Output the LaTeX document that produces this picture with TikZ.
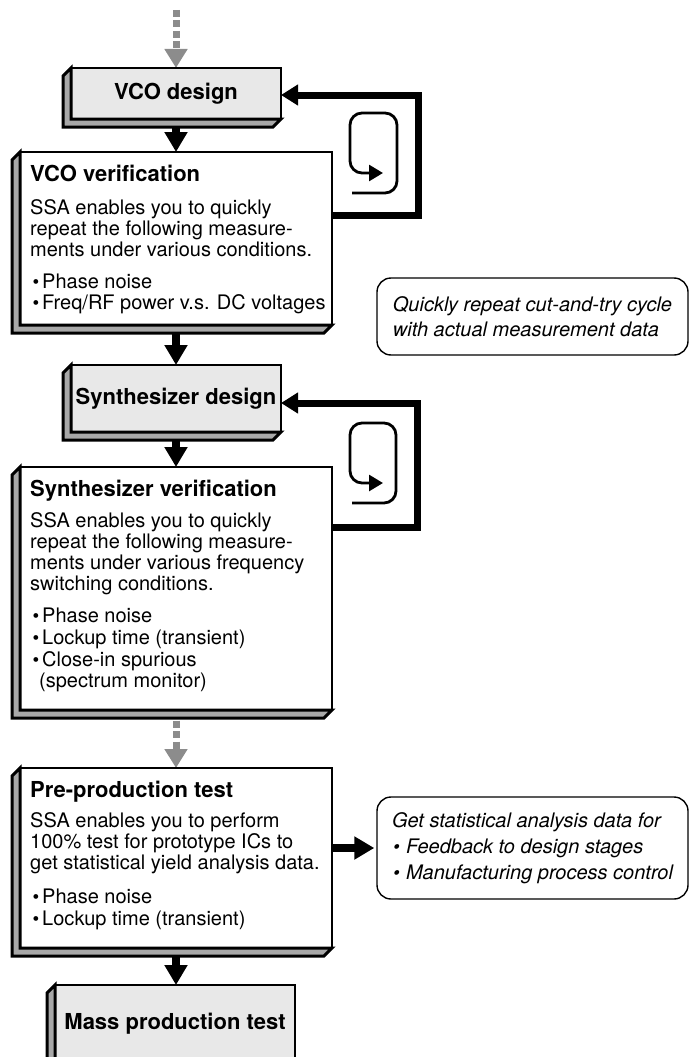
\documentclass[tikz,border=0pt]{standalone}
\usepackage{fontspec}
\setmainfont{TeX Gyre Heros}
\usetikzlibrary{arrows.meta,calc,backgrounds}

\definecolor{facegray}{HTML}{E8E8E8}
\definecolor{bevelgray}{HTML}{A8A8A8}
\definecolor{flowgray}{HTML}{8C8C8C}

% bold stage titles and small list bullets
\newcommand\stagetitle[1]{{\bfseries\fontsize{22}{21}\selectfont #1}}
\newcommand\itemdot{\makebox[12pt][l]{\hspace{2.5pt}{\fontsize{19}{19}\selectfont\textbullet}}}
\newcommand\noteitemdot{\makebox[14pt][l]{\hspace{1pt}{\fontsize{19}{19}\selectfont\textbullet}}}

\tikzset{
  stage/.style={draw, line width=2.6pt, outer sep=0pt, inner sep=0pt, fill=facegray,
    font=\bfseries\fontsize{22}{24}\selectfont, align=center},
  checkbox/.style={draw, line width=2.6pt, outer sep=0pt, inner sep=0pt, fill=white,
    minimum width=312pt},
  bodytext/.style={anchor=north west, inner sep=0pt, align=left,
    font=\fontsize{20}{21}\selectfont},
  note/.style={draw, line width=1.4pt, rounded corners=14pt, minimum width=311pt,
    inner sep=0pt, align=left, font=\itshape\fontsize{20}{25}\selectfont},
  bevel/.style={draw, line width=3pt, fill=bevelgray, line join=miter},
  flow/.style={line width=8pt, -{Triangle[width=22pt,length=20pt]}},
  pending/.style={draw=flowgray, line width=7pt, dash pattern=on 7pt off 3.5pt,
    -{Triangle[width=22pt,length=19pt,fill=flowgray]}},
  feedback/.style={line width=7pt, line join=miter, -{Triangle[width=20pt,length=17pt]}},
  cyclemark/.style={line width=2.8pt, rounded corners=12pt, -{Triangle[width=16pt,length=14pt]}},
}

% left/bottom bevel under a stage box
\newcommand\bevelunder[1]{%
  \draw[bevel] (#1.north west) -- ++(-8,8) -- ($(#1.south west)+(-8,8)$)
    -- ($(#1.south east)+(-8,8)$) -- (#1.south east) -- (#1.south west) -- cycle;}

\begin{document}
\begin{tikzpicture}[x=1pt,y=-1pt]
\useasboundingbox (0,0) rectangle (689,1057);

% stage boxes
\node[stage, minimum width=210pt, minimum height=51pt] (vcod) at (176,93.5) {VCO design};
\node[checkbox, minimum height=173pt] (vcov) at (176,238.5) {};
\node[stage, minimum width=210pt, minimum height=67pt] (synd) at (176,398.5) {Synthesizer design};
\node[checkbox, minimum height=243pt] (synv) at (176,588.5) {};
\node[checkbox, minimum height=180pt] (prep) at (176,858) {};
\node[stage, minimum width=240pt, minimum height=78pt] (mass) at (175,1024)
  {\raisebox{6pt}{Mass production test}};

\foreach \b in {vcod,vcov,synd,synv,prep,mass} {\bevelunder{\b}}

% box contents
\node[bodytext] (vcovtext) at ($(vcov.north west)+(10,12.5)$)
  {\stagetitle{VCO verification}\\[12pt]
   SSA enables you to quickly\\
   repeat the following measure-\\
   ments under various conditions.\\[11pt]
   \itemdot Phase noise\\
   \itemdot Freq/RF power v.s. DC voltages};

\node[bodytext] (synvtext) at ($(synv.north west)+(10,12.5)$)
  {\stagetitle{Synthesizer verification}\\[10pt]
   SSA enables you to quickly\\
   repeat the following measure-\\
   ments under various frequency\\
   switching conditions.\\[11pt]
   \itemdot Phase noise\\[1pt]
   \itemdot Lockup time (transient)\\[1pt]
   \itemdot Close-in spurious\\
   \hspace*{9pt}(spectrum monitor)};

\node[bodytext] (preptext) at ($(prep.north west)+(10,12.5)$)
  {\stagetitle{Pre-production test}\\[9pt]
   SSA enables you to perform\\
   100\% test for prototype ICs to\\
   get statistical yield analysis data.\\[13pt]
   \itemdot Phase noise\\[1pt]
   \itemdot Lockup time (transient)};

% side notes
\node[note, minimum height=77pt] (cyclenote) at (532.5,316.5)
  {Quickly repeat cut-and-try cycle\\with actual measurement data};
\node[note, minimum height=102pt, font=\itshape\fontsize{20}{26}\selectfont] (statnote) at (532.5,848)
  {Get statistical analysis data for\\
   \noteitemdot Feedback to design stages\\
   \noteitemdot Manufacturing process control};

% cut-and-try cycle marks
\draw[cyclemark] (352,193) -- (397,193) -- (397,113) -- (350,113) -- (350,173) -- (383,173);
\draw[cyclemark] (352,503) -- (396,503) -- (396,423) -- (350,423) -- (350,483) -- (383,483);

% connectors
\coordinate (entry) at (176,10);
\coordinate (loopa) at (418,0);
\coordinate (loopb) at (417,0);
\coordinate (vcodin) at ($(vcod.east)+(0,1.5)$);
\coordinate (syndin) at ($(synd.east)+(0,4.5)$);
\begin{scope}[on background layer]
  \draw[pending] (entry) -- (entry |- vcod.north);
  \draw[flow] (vcod.south) -- (vcod.south |- vcov.north);
  \draw[flow] (vcov.south) -- (vcov.south |- synd.north);
  \draw[flow] (synd.south) -- (synd.south |- synv.north);
  \draw[pending] (synv.south) -- (synv.south |- prep.north);
  \draw[flow] (prep.south) -- (prep.south |- mass.north);
  \draw[flow, shorten >=2pt] (statnote.west -| prep.east) -- (statnote.west);
  \draw[feedback] ($(vcov.north east)+(0,63)$) -| (loopa |- vcodin) -- (vcodin);
  \draw[feedback] ($(synv.north east)+(0,60)$) -| (loopb |- syndin) -- (syndin);
\end{scope}
\end{tikzpicture}
\end{document}
